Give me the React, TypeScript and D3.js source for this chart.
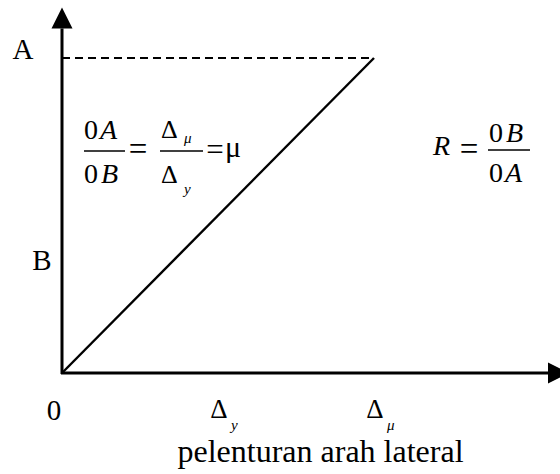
import React from "react";
import * as d3 from "d3";

// Displacement values (in units of Δy) and force levels (relative to A)
const dispTicks = [
  { value: 0, main: "0", sub: "" },
  { value: 1, main: "Δ", sub: "y" },
  { value: 2, main: "Δ", sub: "μ" },
];
const forceLabels = [
  { value: 1.0, label: "A" },
  { value: 0.36, label: "B" },
];
const responseLine = [
  { d: 0, f: 0 },
  { d: 2, f: 1 },
];
const dashedLine = [
  { d: 0, f: 1 },
  { d: 2, f: 1 },
];
const xAxisMax = 3.25;
const yAxisMax = 1.16;
const xTitle = "pelenturan arah lateral";

const W = 560;
const H = 474;
const FONT = "Liberation Serif";

export default function App() {
  const x = d3.scaleLinear().domain([0, 2]).range([62, 374]);
  const y = d3.scaleLinear().domain([0, 1]).range([373, 58]);
  const line = d3
    .line<{ d: number; f: number }>()
    .x((p) => x(p.d))
    .y((p) => y(p.f));

  const x0 = x(0);
  const y0 = y(0);
  const xEnd = x(xAxisMax);
  const yTop = y(yAxisMax);
  const ah = 21; // arrow head length
  const aw = 10.5; // half width

  return (
    <svg
      width={W}
      height={H}
      viewBox={`0 0 ${W} ${H}`}
      style={{ position: "absolute", left: 0, top: 0, background: "#fff" }}
      fontFamily={FONT}
    >
      <rect x={0} y={0} width={W} height={H} fill="#fff" />
      {/* axes */}
      <line x1={x0} y1={y0 + 1} x2={x0} y2={yTop + ah} stroke="#000" strokeWidth={3} />
      <path d={`M${x0},${yTop} L${x0 - aw},${yTop + ah} L${x0 + aw},${yTop + ah} Z`} fill="#000" />
      <line x1={x0 - 1} y1={y0} x2={xEnd - ah} y2={y0} stroke="#000" strokeWidth={3} />
      <path d={`M${xEnd},${y0} L${xEnd - ah},${y0 - aw} L${xEnd - ah},${y0 + aw} Z`} fill="#000" />

      {/* dashed level at A */}
      <path d={line(dashedLine) || ""} stroke="#000" strokeWidth={2} strokeDasharray="8,5" fill="none" />
      {/* response line */}
      <path d={line(responseLine) || ""} stroke="#000" strokeWidth={2.4} fill="none" />

      {/* y labels */}
      {forceLabels.map((l) => (
        <text
          key={l.label}
          fontFamily={FONT}
          x={l.label === "A" ? 23 : 42}
          y={l.label === "A" ? y(l.value) + 1 : y(l.value) + 10}
          fontSize={29}
          textAnchor="middle"
        >
          {l.label}
        </text>
      ))}

      {/* x tick labels */}
      {dispTicks.map((t) =>
        t.sub === "" ? (
          <text key={t.main} fontFamily={FONT} x={x(t.value) - 8} y={420} fontSize={29} textAnchor="middle">
            {t.main}
          </text>
        ) : (
          <g key={t.sub}>
            <text fontFamily={FONT} x={x(t.value) + 1} y={418} fontSize={27} textAnchor="middle">
              {t.main}
            </text>
            <text fontFamily={FONT} x={x(t.value) + 13} y={430} fontSize={15} fontStyle="italic">
              {t.sub}
            </text>
          </g>
        )
      )}

      {/* x title */}
      <text fontFamily={FONT} x={320.5} y={462} fontSize={32} textAnchor="middle">
        {xTitle}
      </text>

      {/* left formula: 0A/0B = Δμ/Δy = μ */}
      <g fontSize={28} fontFamily={FONT}>
        <text x={84} y={139}>0</text>
        <text x={100} y={139} fontStyle="italic">A</text>
        <line x1={84} y1={151} x2={125} y2={151} stroke="#000" strokeWidth={1.3} />
        <text x={84} y={183}>0</text>
        <text x={101} y={183} fontStyle="italic">B</text>
        <text x={138} y={160} fontSize={33} textAnchor="middle">=</text>
        <text x={161} y={138} fontSize={26}>Δ</text>
        <text x={184} y={143} fontSize={15} fontStyle="italic">μ</text>
        <line x1={160} y1={151} x2={203} y2={151} stroke="#000" strokeWidth={1.3} />
        <text x={161} y={183} fontSize={26}>Δ</text>
        <text x={184} y={194} fontSize={15} fontStyle="italic">y</text>
        <text x={215} y={160} fontSize={31} textAnchor="middle">=</text>
        <text x={225} y={157} fontSize={30}>μ</text>
      </g>

      {/* right formula: R = 0B/0A */}
      <g fontSize={28} fontFamily={FONT}>
        <text x={433} y={155} fontStyle="italic">R</text>
        <text x={469} y={160} fontSize={33} textAnchor="middle">=</text>
        <text x={489} y={142}>0</text>
        <text x={506} y={142} fontStyle="italic">B</text>
        <line x1={488} y1={150} x2={530} y2={150} stroke="#000" strokeWidth={1.3} />
        <text x={489} y={182}>0</text>
        <text x={505} y={182} fontStyle="italic">A</text>
      </g>
    </svg>
  );
}
